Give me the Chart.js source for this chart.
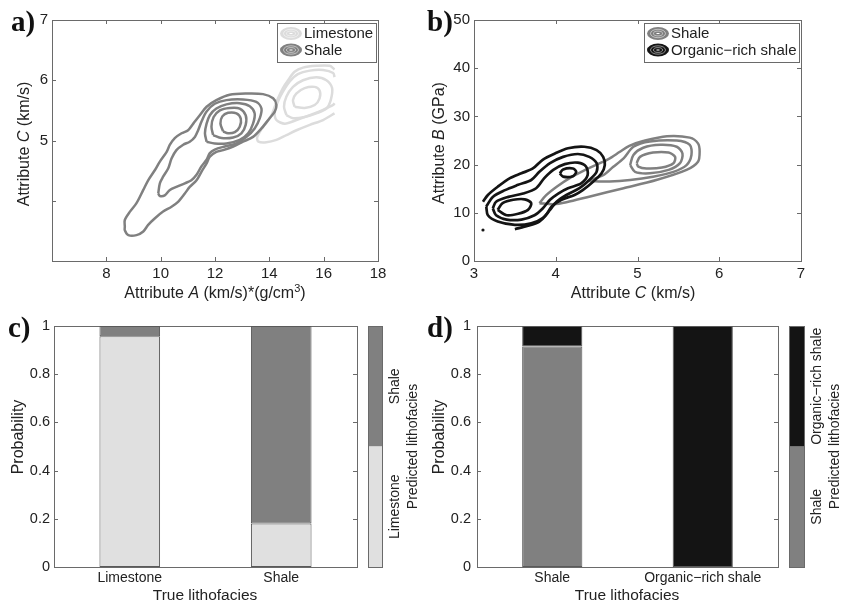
<!DOCTYPE html>
<html><head><meta charset="utf-8">
<script src="https://cdn.jsdelivr.net/npm/chart.js@4.4.1/dist/chart.umd.min.js"></script>
<style>
html,body{margin:0;padding:0;background:#fff;}
body{width:842px;height:603px;position:relative;overflow:hidden;font-family:'Liberation Sans',Arial,sans-serif;color:#222;}
canvas{position:absolute;}
.t{position:absolute;white-space:nowrap;line-height:16px;font-size:16px;transform:translate(-50%,-50%);}
.r{transform:translate(-50%,-50%) rotate(-90deg);}
.sup{font-size:11px;position:relative;top:-6px;line-height:0;}
.lab{position:absolute;font-family:'Liberation Serif','Times New Roman',serif;font-weight:bold;font-size:29px;line-height:29px;color:#111;}
</style></head><body>
<canvas id="ca" width="421" height="300" style="left:0;top:0"></canvas>
<canvas id="cb" width="421" height="300" style="left:421px;top:0"></canvas>
<canvas id="cc" width="366" height="303" style="left:0;top:300px"></canvas>
<canvas id="ccb" width="58" height="303" style="left:366px;top:300px"></canvas>
<canvas id="cd" width="366" height="303" style="left:421px;top:300px"></canvas>
<canvas id="cdb" width="55" height="303" style="left:787px;top:300px"></canvas>

<div class="lab" style="left:11px;top:7px">a)</div>
<div class="lab" style="left:427px;top:7px">b)</div>
<div class="lab" style="left:8px;top:313px">c)</div>
<div class="lab" style="left:427px;top:313px">d)</div>

<div class="t" style="left:215px;top:293px">Attribute <i>A</i> (km/s)*(g/cm<span class="sup">3</span>)</div>
<div class="t r" style="left:24px;top:144px">Attribute <i>C</i> (km/s)</div>
<div class="t" style="left:633px;top:293px">Attribute <i>C</i> (km/s)</div>
<div class="t r" style="left:439px;top:143px">Attribute <i>B</i> (GPa)</div>
<div class="t r" style="left:18px;top:437px">Probability</div>
<div class="t" style="left:205px;top:595px;font-size:15.5px">True lithofacies</div>
<div class="t r" style="left:439px;top:437px">Probability</div>
<div class="t" style="left:627px;top:595px;font-size:15.5px">True lithofacies</div>

<script>
// ---------- Panel a: contours of Attribute A vs Attribute C ----------
const shaleA1 = [[8.68,3.57],[8.68,3.68],[8.87,3.82],[9.11,3.96],[9.36,4.18],[9.54,4.34],[9.79,4.51],[9.97,4.65],[10.22,4.81],[10.34,4.93],[10.52,5.04],[10.77,5.12],[11.01,5.17],[11.20,5.28],[11.44,5.42],[11.69,5.56],[12.05,5.67],[12.54,5.76],[13.16,5.78],[13.77,5.77],[14.14,5.70],[14.26,5.59],[14.20,5.48],[14.01,5.37],[13.71,5.20],[13.40,5.06],[13.03,4.98],[12.67,4.90],[12.30,4.84],[12.05,4.81],[11.81,4.73],[11.69,4.62],[11.50,4.48],[11.32,4.34],[11.07,4.23],[10.89,4.12],[10.64,3.98],[10.40,3.90],[10.09,3.82],[9.79,3.71],[9.54,3.60],[9.36,3.49],[9.11,3.43],[8.81,3.43],[8.68,3.51]];
const shaleA2 = [[9.91,4.12],[9.97,4.29],[10.09,4.40],[10.28,4.54],[10.40,4.70],[10.58,4.84],[10.83,4.93],[11.07,4.98],[11.26,5.06],[11.38,5.17],[11.50,5.31],[11.69,5.48],[11.99,5.61],[12.42,5.67],[13.03,5.68],[13.52,5.64],[13.71,5.53],[13.65,5.37],[13.46,5.20],[13.16,5.06],[12.79,4.95],[12.36,4.90],[11.99,4.85],[11.81,4.79],[11.69,4.68],[11.50,4.57],[11.32,4.43],[11.13,4.34],[10.89,4.29],[10.58,4.23],[10.34,4.18],[10.15,4.09],[9.97,4.08]];
const shaleA3 = [[11.69,4.98],[11.63,5.12],[11.69,5.28],[11.81,5.42],[12.05,5.53],[12.42,5.60],[12.91,5.62],[13.28,5.57],[13.46,5.45],[13.40,5.28],[13.22,5.12],[12.91,5.01],[12.42,4.95],[11.99,4.95]];
const shaleA4 = [[11.93,5.09],[11.87,5.23],[11.95,5.39],[12.18,5.50],[12.54,5.54],[12.91,5.53],[13.13,5.42],[13.13,5.26],[12.97,5.12],[12.67,5.05],[12.24,5.04]];
const shaleA5 = [[12.30,5.15],[12.20,5.28],[12.27,5.40],[12.48,5.46],[12.79,5.45],[12.95,5.36],[12.91,5.23],[12.73,5.14],[12.48,5.12]];
const limeA1 = [[16.40,5.45],[15.98,5.34],[15.49,5.26],[15.00,5.17],[14.63,5.09],[14.26,5.01],[13.89,4.97],[13.60,4.98],[13.55,5.05],[13.70,5.18],[13.90,5.30],[14.08,5.42],[14.20,5.56],[14.32,5.70],[14.50,5.87],[14.69,6.00],[14.93,6.14],[15.24,6.21],[15.73,6.24],[16.22,6.24],[16.40,6.18]];
const limeA2 = [[16.40,5.62],[16.35,5.59],[15.98,5.51],[15.49,5.42],[15.00,5.34],[14.57,5.28],[14.26,5.34],[14.20,5.48],[14.32,5.65],[14.50,5.81],[14.75,5.98],[15.05,6.10],[15.49,6.16],[15.98,6.17],[16.35,6.12],[16.40,6.05]];
const limeA3 = [[14.63,5.42],[14.54,5.56],[14.63,5.73],[14.87,5.89],[15.24,6.00],[15.73,6.05],[16.10,6.00],[16.31,5.87],[16.26,5.67],[16.10,5.53],[15.73,5.45],[15.30,5.39],[14.87,5.37]];
const limeA4 = [[14.93,5.56],[14.87,5.67],[14.99,5.78],[15.30,5.87],[15.67,5.89],[15.85,5.83],[15.85,5.70],[15.67,5.59],[15.30,5.54]];
const legendA = ['Limestone','Shale'];
const xTicksA = [6,8,10,12,14,16,18];
const yTicksA = [3,4,5,6,7];

// ---------- Panel b: contours of Attribute C vs Attribute B ----------
const orgB1 = [[3.11,12.3],[3.17,13.7],[3.29,15.4],[3.44,17.2],[3.58,18.2],[3.72,19.2],[3.84,21.0],[3.99,22.3],[4.15,23.4],[4.35,23.7],[4.50,23.0],[4.58,21.6],[4.60,19.9],[4.56,18.2],[4.46,16.5],[4.33,14.7],[4.23,13.7],[4.07,12.7],[3.95,11.3],[3.88,9.5],[3.80,8.2],[3.66,7.3],[3.50,6.6]];
const orgB2 = [[3.15,11.3],[3.23,13.3],[3.38,14.7],[3.54,15.8],[3.70,16.8],[3.80,18.5],[3.93,20.3],[4.09,21.6],[4.27,22.2],[4.41,21.6],[4.50,20.3],[4.50,18.5],[4.41,16.8],[4.29,15.1],[4.13,13.7],[4.01,12.3],[3.93,10.6],[3.84,8.9],[3.70,7.8],[3.50,7.5],[3.29,8.2],[3.17,9.5]];
const orgB3 = [[3.23,10.9],[3.27,12.3],[3.42,13.3],[3.60,14.0],[3.76,15.1],[3.86,17.2],[3.97,18.9],[4.11,20.1],[4.27,20.4],[4.37,19.6],[4.39,17.8],[4.31,16.1],[4.15,15.1],[4.03,14.0],[3.93,12.7],[3.84,10.9],[3.74,9.5],[3.58,8.6],[3.40,8.6],[3.27,9.5]];
const orgB4 = [[3.29,10.6],[3.35,12.0],[3.48,12.7],[3.62,12.8],[3.70,12.0],[3.66,10.6],[3.54,9.8],[3.40,9.5]];
const orgB5 = [[4.05,18.2],[4.09,19.0],[4.21,19.2],[4.25,18.5],[4.21,17.6],[4.09,17.5]];
const orgDot = [[3.11,6.43]];
const shaleB1 = [[3.80,12.0],[3.97,11.8],[4.13,12.2],[4.42,13.4],[4.83,15.1],[5.23,16.8],[5.60,18.9],[5.74,20.6],[5.76,22.7],[5.74,24.4],[5.64,25.6],[5.36,25.9],[5.07,24.9],[4.90,23.9],[4.78,22.6],[4.65,21.2],[4.50,20.0],[4.35,18.8],[4.18,17.3],[4.02,15.5],[3.88,13.6]];
const shaleB2 = [[4.40,16.6],[4.58,17.8],[4.70,19.5],[4.83,21.3],[4.95,23.7],[5.15,24.8],[5.48,25.0],[5.64,24.1],[5.66,22.0],[5.60,19.9],[5.44,18.5],[5.19,17.5],[4.91,16.8],[4.66,16.5]];
const shaleB3 = [[4.91,19.9],[4.95,22.0],[5.07,23.5],[5.28,24.1],[5.48,23.7],[5.55,22.3],[5.52,20.3],[5.38,18.9],[5.15,18.2],[4.97,18.5]];
const shaleB4 = [[4.99,20.3],[5.03,21.6],[5.19,22.5],[5.38,22.5],[5.46,21.6],[5.44,20.3],[5.30,19.4],[5.11,19.2],[5.01,19.6]];
const legendB = ['Shale','Organic\u2212rich shale'];
const xTicksB = [3,4,5,6,7];
const yTicksB = [0,10,20,30,40,50];

// ---------- Panel c ----------
const trueC = ['Limestone','Shale'];
const predLimestoneC = [0.957, 0.18];
const predShaleC = [0.043, 0.82];
const cbLabelsC = ['Limestone','Shale'];
const cbShareC = [0.5, 0.5];

// ---------- Panel d ----------
const trueD = ['Shale','Organic\u2212rich shale'];
const predShaleD = [0.915, 0];
const predOrganicD = [0.085, 1.0];
const cbLabelsD = ['Shale','Organic\u2212rich shale'];
const cbShareD = [0.5, 0.5];
const probTicks = [0,0.2,0.4,0.6,0.8,1];

// ---------- styling ----------
const FONT = "'Liberation Sans', Arial, sans-serif";
Chart.defaults.font.family = FONT;
Chart.defaults.color = '#222';
const AX = '#6a6a6a';
const C_LIME = '#dcdcdc', C_SHALE = '#808080', C_ORG = '#141414', C_LIGHTBAR = '#e0e0e0';

const boxPlugin = {
  id: 'mbox',
  beforeDatasetsDraw(chart) {
    const {ctx, chartArea: a} = chart;
    const xs = chart.scales.x, ys = chart.scales.y, L = 4;
    ctx.save();
    ctx.strokeStyle = AX; ctx.lineWidth = 1;
    ctx.beginPath();
    xs.ticks.forEach((t, i) => { const p = Math.round(xs.getPixelForTick(i)) + 0.5;
      ctx.moveTo(p, a.bottom); ctx.lineTo(p, a.bottom - L); ctx.moveTo(p, a.top); ctx.lineTo(p, a.top + L); });
    ys.ticks.forEach((t, i) => { const p = Math.round(ys.getPixelForTick(i)) + 0.5;
      ctx.moveTo(a.left, p); ctx.lineTo(a.left + L, p); ctx.moveTo(a.right, p); ctx.lineTo(a.right - L, p); });
    ctx.stroke();
    ctx.strokeRect(Math.round(a.left) + 0.5, Math.round(a.top) + 0.5, Math.round(a.right - a.left), Math.round(a.bottom - a.top));
    ctx.restore();
  }
};

const legendPlugin = {
  id: 'clegend',
  afterDatasetsDraw(chart, args, opts) {
    const {ctx, chartArea: a} = chart;
    ctx.save();
    ctx.font = '15px ' + FONT;
    const tw = Math.max(...opts.items.map(it => ctx.measureText(it.label).width));
    const w = Math.round(3 + 22 + 2 + tw + 3), h = 39;
    const right = a.right - 2, top = a.top + 3, left = right - w;
    ctx.fillStyle = '#fff'; ctx.fillRect(left, top, w, h);
    ctx.strokeStyle = AX; ctx.lineWidth = 1;
    ctx.strokeRect(Math.round(left) + 0.5, Math.round(top) + 0.5, w, h);
    opts.items.forEach((it, i) => {
      const cy = top + 10.5 + i * 16.5, cx = left + 3 + 11;
      ctx.fillStyle = it.color; ctx.beginPath(); ctx.ellipse(cx, cy, 11, 6.5, 0, 0, Math.PI * 2); ctx.fill();
      ctx.strokeStyle = 'rgba(255,255,255,0.5)'; ctx.lineWidth = 1;
      ctx.beginPath(); ctx.ellipse(cx, cy, 7.5, 4.2, 0, 0, Math.PI * 2); ctx.stroke();
      ctx.beginPath(); ctx.ellipse(cx, cy, 4.5, 2.4, 0, 0, Math.PI * 2); ctx.stroke();
      ctx.strokeStyle = '#fff'; ctx.beginPath(); ctx.moveTo(cx - 1.5, cy); ctx.lineTo(cx + 1.5, cy); ctx.stroke();
      ctx.fillStyle = '#222'; ctx.textBaseline = 'middle'; ctx.textAlign = 'left';
      ctx.fillText(it.label, left + 3 + 22 + 2, cy + 0.5);
    });
    ctx.restore();
  }
};

const cbPlugin = {
  id: 'cblab',
  afterDatasetsDraw(chart, args, opts) {
    const {ctx, chartArea: a} = chart;
    const ys = chart.scales.y;
    ctx.save();
    ctx.strokeStyle = AX; ctx.lineWidth = 1;
    ctx.strokeRect(Math.round(a.left) + 0.5, Math.round(a.top) + 0.5, Math.round(a.right - a.left), Math.round(a.bottom - a.top));
    ctx.fillStyle = '#222'; ctx.textAlign = 'center'; ctx.textBaseline = 'middle';
    ctx.font = '14px ' + FONT;
    let cum = 0;
    opts.labels.forEach((lab, i) => {
      const y = ys.getPixelForValue(cum + opts.shares[i] / 2); cum += opts.shares[i];
      ctx.save(); ctx.translate(opts.labelX, y); ctx.rotate(-Math.PI / 2); ctx.fillText(lab, 0, 0); ctx.restore();
    });
    ctx.save(); ctx.translate(opts.titleX, (a.top + a.bottom) / 2); ctx.rotate(-Math.PI / 2);
    ctx.fillText(opts.title, 0, 0); ctx.restore();
    ctx.restore();
  }
};

function line(pts, color, width, closed) {
  const p = closed ? pts.concat([pts[0]]) : pts;
  return { data: p.map(q => ({x: q[0], y: q[1]})), showLine: true, borderColor: color, borderWidth: width,
    pointRadius: 0, tension: 0.3, fill: false };
}

function scatterOpts(xr, yr, xT, yT, xLab, yLab, yW, padR, legendItems) {
  return {
    responsive: false, animation: false, events: [],
    layout: {padding: {left: 0, right: padR, top: 20, bottom: 0}},
    scales: {
      x: {type: 'linear', min: xr[0], max: xr[1],
          afterBuildTicks: s => { s.ticks = xT.map(v => ({value: v})); },
          ticks: {font: {size: 15}, color: '#222', padding: 4, maxRotation: 0, callback: xLab},
          grid: {display: false, drawTicks: false}, border: {display: false},
          afterFit: s => { s.height = 39; }},
      y: {type: 'linear', min: yr[0], max: yr[1],
          afterBuildTicks: s => { s.ticks = yT.map(v => ({value: v})); },
          ticks: {font: {size: 15}, color: '#222', padding: 4, callback: yLab},
          grid: {display: false, drawTicks: false}, border: {display: false},
          afterFit: s => { s.width = yW; }}
    },
    plugins: {legend: {display: false}, tooltip: {enabled: false}, clegend: {items: legendItems}}
  };
}

// Panel a
new Chart(document.getElementById('ca'), {
  type: 'scatter',
  data: {datasets: [
    line(shaleA5, C_SHALE, 2.5, true), line(shaleA4, C_SHALE, 2.5, true), line(shaleA3, C_SHALE, 2.5, true),
    line(shaleA2, C_SHALE, 2.5, true), line(shaleA1, C_SHALE, 2.5, true),
    line(limeA4, C_LIME, 2.5, true), line(limeA3, C_LIME, 2.5, true), line(limeA2, C_LIME, 2.5, false), line(limeA1, C_LIME, 2.5, false)
  ]},
  options: scatterOpts([6, 18], [3, 7], xTicksA, yTicksA, v => v === 6 ? '' : v, v => v >= 5 ? v : '', 52, 43,
    [{label: legendA[0], color: C_LIME}, {label: legendA[1], color: C_SHALE}]),
  plugins: [boxPlugin, legendPlugin]
});

// Panel b
const dotSet = {data: orgDot.map(q => ({x: q[0], y: q[1]})), pointRadius: 1.6, pointBackgroundColor: C_ORG, pointBorderWidth: 0, showLine: false};
new Chart(document.getElementById('cb'), {
  type: 'scatter',
  data: {datasets: [
    dotSet,
    line(orgB5, C_ORG, 2.7, true), line(orgB4, C_ORG, 2.7, true), line(orgB3, C_ORG, 2.7, true),
    line(orgB2, C_ORG, 2.7, true), line(orgB1, C_ORG, 2.7, false),
    line(shaleB4, C_SHALE, 2.5, true), line(shaleB3, C_SHALE, 2.5, true), line(shaleB2, C_SHALE, 2.5, true), line(shaleB1, C_SHALE, 2.5, true)
  ]},
  options: scatterOpts([3, 7], [0, 50], xTicksB, yTicksB, v => v, v => v, 53, 41,
    [{label: legendB[0], color: C_SHALE}, {label: legendB[1], color: C_ORG}]),
  plugins: [boxPlugin, legendPlugin]
});

function barOpts(yW, lblPad) {
  return {
    responsive: false, animation: false, events: [],
    layout: {padding: {left: 0, right: 9, top: 26, bottom: 0}},
    scales: {
      x: {stacked: true, ticks: {font: {size: 14}, color: '#222', padding: 3, maxRotation: 0},
          grid: {display: false, drawTicks: false}, border: {display: false},
          afterFit: s => { s.height = 36; }},
      y: {stacked: true, min: 0, max: 1,
          afterBuildTicks: s => { s.ticks = probTicks.map(v => ({value: v})); },
          ticks: {font: {size: 14.5}, color: '#222', padding: lblPad, callback: v => String(Math.round(v * 10) / 10)},
          grid: {display: false, drawTicks: false}, border: {display: false},
          afterFit: s => { s.width = yW; }}
    },
    plugins: {legend: {display: false}, tooltip: {enabled: false}}
  };
}
function barSet(label, data, color) {
  return {label, data, backgroundColor: color, borderColor: '#5a5a5a', borderWidth: 1, borderSkipped: false,
    barPercentage: 0.4, categoryPercentage: 1};
}
function cbOpts(padR, labels, shares, labelX, titleX) {
  return {
    responsive: false, animation: false, events: [],
    layout: {padding: {left: 2, right: padR, top: 26, bottom: 36}},
    scales: {x: {display: false, stacked: true}, y: {display: false, stacked: true, min: 0, max: 1}},
    plugins: {legend: {display: false}, tooltip: {enabled: false},
      cblab: {labels, shares, labelX, titleX, title: 'Predicted lithofacies'}}
  };
}

// Panel c
new Chart(document.getElementById('cc'), {
  type: 'bar',
  data: {labels: trueC, datasets: [barSet('Limestone', predLimestoneC, C_LIGHTBAR), barSet('Shale', predShaleC, C_SHALE)]},
  options: barOpts(54, 4),
  plugins: [boxPlugin]
});
new Chart(document.getElementById('ccb'), {
  type: 'bar',
  data: {labels: [''], datasets: cbLabelsC.map((l, i) => ({label: l, data: [cbShareC[i]],
    backgroundColor: [C_LIGHTBAR, C_SHALE][i], borderWidth: 0, barPercentage: 1, categoryPercentage: 1}))},
  options: cbOpts(42, cbLabelsC, cbShareC, 29, 47),
  plugins: [cbPlugin]
});

// Panel d
new Chart(document.getElementById('cd'), {
  type: 'bar',
  data: {labels: trueD, datasets: [barSet('Shale', predShaleD, C_SHALE), barSet('Organic\u2212rich shale', predOrganicD, C_ORG)]},
  options: barOpts(56, 6),
  plugins: [boxPlugin]
});
new Chart(document.getElementById('cdb'), {
  type: 'bar',
  data: {labels: [''], datasets: cbLabelsD.map((l, i) => ({label: l, data: [cbShareD[i]],
    backgroundColor: [C_SHALE, C_ORG][i], borderWidth: 0, barPercentage: 1, categoryPercentage: 1}))},
  options: cbOpts(38, cbLabelsD, cbShareD, 30, 48),
  plugins: [cbPlugin]
});
</script>
</body></html>
